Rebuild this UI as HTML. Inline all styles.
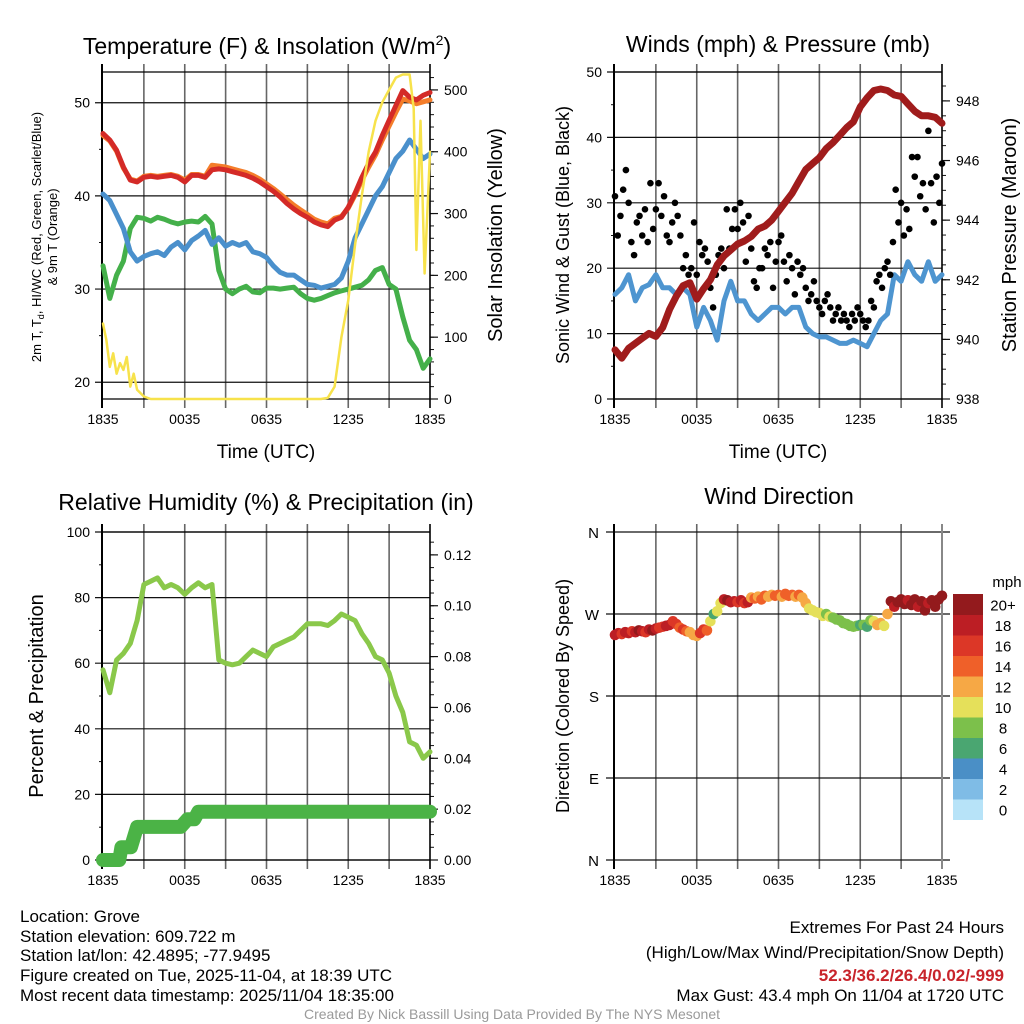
<!DOCTYPE html>
<html><head><meta charset="utf-8"><style>
html,body{margin:0;padding:0;background:#fff;}
svg{display:block;font-family:"Liberation Sans",sans-serif;}
.ft{font-family:"Liberation Sans Narrow","Liberation Sans",sans-serif;}
</style></head><body>
<svg id="fig" width="1024" height="1024" viewBox="0 0 1024 1024" xmlns="http://www.w3.org/2000/svg">
<g id="layer"></g>
<text x="267" y="54" font-size="23" text-anchor="middle">Temperature (F) &amp; Insolation (W/m<tspan dy="-9" font-size="14">2</tspan><tspan dy="9">)</tspan></text>
<text x="778" y="52" font-size="23" text-anchor="middle">Winds (mph) &amp; Pressure (mb)</text>
<text x="266" y="510" font-size="23" text-anchor="middle">Relative Humidity (%) &amp; Precipitation (in)</text>
<text x="779" y="504" font-size="23" text-anchor="middle">Wind Direction</text>
<text x="266" y="458" font-size="19" text-anchor="middle">Time (UTC)</text>
<text x="778" y="458" font-size="19" text-anchor="middle">Time (UTC)</text>
<text transform="translate(41,237) rotate(-90)" font-size="13" text-anchor="middle">2m T, T<tspan font-size="9" dy="3">d</tspan><tspan dy="-3">, HI/WC (Red, Green, Scarlet/Blue)</tspan></text>
<text transform="translate(57,237) rotate(-90)" font-size="13" text-anchor="middle">&amp; 9m T (Orange)</text>
<text transform="translate(502,235) rotate(-90)" font-size="20" text-anchor="middle">Solar Insolation (Yellow)</text>
<text transform="translate(569,235) rotate(-90)" font-size="18" text-anchor="middle">Sonic Wind &amp; Gust (Blue, Black)</text>
<text transform="translate(1016,235) rotate(-90)" font-size="20" text-anchor="middle">Station Pressure (Maroon)</text>
<text transform="translate(43,696) rotate(-90)" font-size="20" text-anchor="middle">Percent &amp; Precipitation</text>
<text transform="translate(569,696) rotate(-90)" font-size="18" text-anchor="middle">Direction (Colored By Speed)</text>
<g class="ft" font-size="17">
<text x="20" y="922">Location: Grove</text>
<text x="20" y="942">Station elevation: 609.722 m</text>
<text x="20" y="961">Station lat/lon: 42.4895; -77.9495</text>
<text x="20" y="981">Figure created on Tue, 2025-11-04, at 18:39 UTC</text>
<text x="20" y="1001">Most recent data timestamp: 2025/11/04 18:35:00</text>
<text x="1004" y="933" text-anchor="end">Extremes For Past 24 Hours</text>
<text x="1004" y="958" text-anchor="end">(High/Low/Max Wind/Precipitation/Snow Depth)</text>
<text x="1004" y="981" text-anchor="end" fill="#c8242b" font-weight="bold">52.3/36.2/26.4/0.02/-999</text>
<text x="1004" y="1001" text-anchor="end">Max Gust: 43.4 mph On 11/04 at 1720 UTC</text>
<text x="512" y="1019" text-anchor="middle" fill="#9a9a9a" font-size="14">Created By Nick Bassill Using Data Provided By The NYS Mesonet</text>
</g>
</svg>
<script>
const timeLabels=["1835","0035","0635","1235","1835"];
const temp2m=[46.7,46,44.9,43.1,41.7,41.5,42,42.1,42,42.1,42.2,42,41.5,42.2,42.2,42,42.8,42.9,42.8,42.6,42.4,42.2,41.9,41.5,41,40.5,39.9,39.2,38.6,38.1,37.7,37.2,36.9,36.7,37.4,37.7,38.8,40.3,42,43.5,44.7,46.5,48.1,49.7,51.3,50.6,50.3,50.8,51.1];
const temp9m=[46.5,45.9,44.8,43,41.8,41.6,42.1,42.2,42.1,42.2,42.3,42.1,41.7,42.3,42.3,42.1,43.3,43.2,43.1,42.9,42.7,42.5,42.2,41.8,41.3,40.8,40.2,39.6,39,38.5,38,37.5,37.2,37,37.6,37.8,38.7,40.1,41.7,43.1,44.4,46,47.5,49,50.4,50.2,49.9,50.1,50.3];
const dewPoint=[40.2,39.5,38,36.5,34,33,33.5,33.8,34,33.6,34.5,35,34.2,35.2,35.7,36.3,34.8,35.5,34.6,35,34.7,35,34,33.8,33.4,32.5,31.8,31.5,31.5,31,30.5,30.4,30.1,30.3,30.5,31.2,33,35.5,37,38.5,40,41,42.5,44,44.8,46,45,44,44.5];
const chillVals=[32.5,29,31.5,33,36.5,37.7,37.6,37.3,37.7,37.5,37.2,37,37.2,37.3,37.2,37.8,37,32,30,29.5,30,30.3,29.7,29.6,30.1,30.1,30,30.1,30.2,29.5,29,28.8,29,29.3,29.6,29.8,30,30.2,30.4,31,32,32.3,30.5,30,27,24.5,23.5,21.5,22.5];
const insolHours=[0,0.25,0.5,0.75,1,1.25,1.5,1.75,2,2.25,2.5,3,3.5,16,16.5,17,17.5,18,18.5,19,19.5,20,20.5,21,21.5,22,22.5,22.8,23,23.3,23.6,23.8,24];
const insolVals=[122,95,52,74,41,58,47,68,20,41,15,4,0,0,2,20,100,160,250,330,400,450,480,500,520,525,525,470,241,450,203,300,400];
const pressureVals=[939.65,939.37,939.7,939.87,940.04,940.2,940.1,940.4,941,941.45,941.8,941.9,941.35,941.7,942,942.5,942.8,943,943.2,943.3,943.45,943.7,943.8,944,944.3,944.6,944.9,945.3,945.7,945.9,946.1,946.4,946.6,946.85,947.1,947.3,947.8,948.1,948.35,948.4,948.35,948.2,948.15,947.9,947.65,947.5,947.5,947.45,947.25];
const windVals=[16,17,19,15,17,17.5,19,17,17,16,17,16,11,14,12,9,15,18,15,15,13,12,13,14,14,13,14,14,11,10,9.5,9.5,9,8.5,8.5,9,8.5,8,10,12,13,19,18,21,19,18,21,18,19];
const gustHours=[0,0.2,0.4,0.6,0.8,1,1.2,1.4,1.6,1.8,2,2.2,2.4,2.6,2.8,3,3.2,3.4,3.6,3.8,4,4.2,4.4,4.6,4.8,5,5.2,5.4,5.6,5.8,6,6.2,6.4,6.6,6.8,7,7.2,7.4,7.6,7.8,8,8.2,8.4,8.6,8.8,9,9.2,9.4,9.6,9.8,10,10.2,10.4,10.6,10.8,11,11.2,11.4,11.6,11.8,12,12.2,12.4,12.6,12.8,13,13.2,13.4,13.6,13.8,14,14.2,14.4,14.6,14.8,15,15.2,15.4,15.6,15.8,16,16.2,16.4,16.6,16.8,17,17.2,17.4,17.6,17.8,18,18.2,18.4,18.6,18.8,19,19.2,19.4,19.6,19.8,20,20.2,20.4,20.6,20.8,21,21.2,21.4,21.6,21.8,22,22.2,22.4,22.6,22.8,23,23.2,23.4,23.6,23.8,24];
const gustVals=[31,25,28,32,35,30,24,22,27,28,25,29,24,33,26,29,33,28,31,25,24,27,30,28,25,20,22,19,20,27,19,24,22,23,21,17,14,19,22,23,20,29,23,26,29,26,30,27,21,28,23,18,17,20,20,23,22,24,17,21,24,25,21,18,22,20,16,21,19,20,17,15,16,18,15,14,13,15,16,14,12,13,14,12,13,12,11,13,12,14,13,12,11,12,15,14,18,19,17,20,21,19,24,32,27,30,25,29,26,37,34,37,31,33,29,41,33,27,34,30,36];
const rhVals=[58,51,61,63,66,73,84,85,86,83,84,83,81,83,84.5,83,84,61,60,59.5,60,62,64,63,62,65,66,67,68,70,72,72,72,71.5,73,75,74,73,69,66,62,61,57,50,45,36,35,31,33];
const precipHours=[0,1.2,1.35,2.05,2.5,5.7,6.2,6.7,7.0,24];
const precipVals=[0,0,0.005,0.005,0.013,0.013,0.016,0.016,0.019,0.019];
const dirVals=[247,249,248,250,249,251,250,252,251,250,253,252,254,255,256,257,258,262,259,255,253,251,250,247,246,249,253,252,262,270,273,282,286,285,283,284,283,285,282,283,288,287,289,286,290,289,291,290,291,289,292,290,291,289,291,288,282,276,274,272,271,268,270,267,266,264,263,260,259,257,256,257,258,258,256,263,262,258,260,257,270,284,278,283,286,281,285,280,286,278,284,274,282,285,278,286,290];
const dirSpeeds=[19,19,17,19,18,17,19,20,19,17,18,20,18,17,16,19,18,16,17,15,16,14,13,12,12,17,16,14,10,7,10,11,19,20,18,18,17,18,16,19,13,14,12,15,14,13,12,14,14,12,14,15,14,13,15,13,12,11,10,10,10,11,9,10,8,9,8,8,8,8,9,8,7,8,6,9,10,12,13,11,12,20,18,21,21,20,19,21,22,18,21,20,19,21,20,22,21];
const speedLabels=["0","2","4","6","8","10","12","14","16","18","20+"];
const speedColors=["#b7e3f8","#7fbce6","#4a8fc6","#4aa671","#7cc04b","#e5e05a","#f6a845","#ef6029","#dc3727","#bc1e24","#931a1d"];

const NS="http://www.w3.org/2000/svg";
const layer=document.getElementById('layer');
function mk(tag,attrs,parent){const e=document.createElementNS(NS,tag);for(const k in attrs)e.setAttribute(k,attrs[k]);(parent||layer).appendChild(e);return e;}
function txt(x,y,s,size,anchor,parent){const t=mk('text',{x:x,y:y,'font-size':size,'text-anchor':anchor},parent);t.textContent=s;return t;}
function panel(L,R,T,B){return {L,R,T,B,x:h=>L+h/24*(R-L)};}
function lin(d0,d1,T,B){return v=>B-(v-d0)/(d1-d0)*(B-T);}

function frame(p,name,yl,lt,lmin,yr,rt,rmin,rfmt,lfmt){
  const g=mk('g',{});
  
  
  for(let i=1;i<8;i++){const x=p.L+i*(p.R-p.L)/8;const l=mk('line',{x1:x,x2:x,y1:p.T-8,y2:p.B+9,stroke:'#666','stroke-width':1.6},g);}
  lt.forEach(v=>{const y=yl(v);const l=mk('line',{x1:p.L-8,x2:p.R,y1:y,y2:y,stroke:'#111','stroke-width':1.2},g);
    const t=txt(p.L-13,y+5,lfmt(v),14,'end',g);});
  lmin.forEach(v=>{const y=yl(v);mk('line',{x1:p.L-4,x2:p.L,y1:y,y2:y,stroke:'#111','stroke-width':1},g);});
  rt.forEach(v=>{const y=yr(v);mk('line',{x1:p.R,x2:p.R+8,y1:y,y2:y,stroke:'#111','stroke-width':1.2},g);
    const t=txt(p.R+14,y+5,rfmt(v),14,'start',g);});
  rmin.forEach(v=>{const y=yr(v);mk('line',{x1:p.R,x2:p.R+4,y1:y,y2:y,stroke:'#111','stroke-width':1},g);});
  mk('line',{x1:p.L-1,x2:p.L-1,y1:p.T-8,y2:p.B+9,stroke:'#000','stroke-width':2},g);
  mk('line',{x1:p.R,x2:p.R,y1:p.T-8,y2:p.B+9,stroke:'#000','stroke-width':1.6},g);
  mk('line',{x1:p.L,x2:p.R,y1:p.T,y2:p.T,stroke:'#000','stroke-width':1.3},g);
  mk('line',{x1:p.L,x2:p.R,y1:p.B,y2:p.B,stroke:'#000','stroke-width':1.3},g);
  timeLabels.forEach((s,i)=>{const t=txt(p.x(i*6),p.B+25,s,14,'middle',g);});
  return g;
}
function line(p,hours,vals,ys,color,w,name){
  const d=vals.map((v,i)=>(i?'L':'M')+p.x(hours(i)).toFixed(1)+','+ys(v).toFixed(1)).join('');
  const e=mk('path',{d:d,fill:'none',stroke:color,'stroke-width':w,'stroke-linejoin':'round','stroke-linecap':'round'});
  
  
  return e;
}
const half=i=>i*0.5;
function range(a,b,s){const r=[];for(let v=a;v<=b+1e-9;v+=s)r.push(+v.toFixed(4));return r;}

// Panel 1
const p1=panel(103,430,72,399);
const t1=lin(18.2,53.3,p1.T,p1.B), s1=lin(0,529,p1.T,p1.B);
frame(p1,'temperature',t1,[20,30,40,50],[25,35,45],s1,[0,100,200,300,400,500],range(20,520,20),v=>String(v),v=>String(v));
line(p1,half,temp9m,t1,'#f47d2a',5,'temp-9m-line');
line(p1,half,temp2m,t1,'#d42a27',5,'temp-2m-line');
line(p1,half,chillVals,t1,'#44b04a',5,'heat-index-windchill-line');
line(p1,half,dewPoint,t1,'#4a90cc',5,'dewpoint-line');
line(p1,i=>insolHours[i],insolVals,s1,'#f7e24b',2.5,'insolation-line');

// Panel 2
const p2=panel(615,942,72,399);
const w2=lin(0,50,p2.T,p2.B), pr2=lin(938,948.97,p2.T,p2.B);
frame(p2,'winds',w2,[0,10,20,30,40,50],[5,15,25,35,45],pr2,[938,940,942,944,946,948],range(938.5,948.5,0.5),v=>String(v),v=>String(v));
line(p2,half,windVals,w2,'#4e95d0',5,'sonic-wind-line');
gustVals.forEach((v,i)=>{if(gustHours[i]===undefined)return;const c=mk('circle',{cx:p2.x(gustHours[i]),cy:w2(v),r:3.3,fill:'#000'});

});
line(p2,half,pressureVals,pr2,'#a01c1c',7,'pressure-line');

// Panel 3
const p3=panel(103,430,532,860);
const r3=lin(0,100,p3.T,p3.B), pc3=lin(0,0.129,p3.T,p3.B);
frame(p3,'humidity',r3,[0,20,40,60,80,100],[10,30,50,70,90],pc3,[0,0.02,0.04,0.06,0.08,0.1,0.12],range(0.005,0.125,0.005),v=>v.toFixed(2),v=>String(v));
line(p3,half,rhVals,r3,'#8ac84a',5,'relative-humidity-line');
line(p3,i=>precipHours[i],precipVals,pc3,'#4bb346',14,'precipitation-line');

// Panel 4
const p4=panel(615,942,532,860);
const d4=lin(0,360,p4.T,p4.B);
const dirLabels=["N","E","S","W","N"];
(function(){const g=mk('g',{});


for(let i=1;i<8;i++){const x=p4.L+i*(p4.R-p4.L)/8;mk('line',{x1:x,x2:x,y1:p4.T-8,y2:p4.B+9,stroke:'#666','stroke-width':1.6},g);}
[0,90,180,270,360].forEach((v,i)=>{const y=d4(v);mk('line',{x1:p4.L-9,x2:p4.R+8,y1:y,y2:y,stroke:'#111','stroke-width':1.2},g);
 const t=txt(p4.L-16,y+6,dirLabels[i],15,'end',g);});
mk('line',{x1:p4.L-1,x2:p4.L-1,y1:p4.T-8,y2:p4.B+9,stroke:'#000','stroke-width':2},g);
mk('line',{x1:p4.R,x2:p4.R,y1:p4.T-8,y2:p4.B+9,stroke:'#888','stroke-width':2},g);
timeLabels.forEach((s,i)=>{const t=txt(p4.x(i*6),p4.B+25,s,14,'middle',g);});
})();
dirVals.forEach((v,i)=>{const idx=Math.min(10,Math.floor(dirSpeeds[i]/2));
const c=mk('circle',{cx:p4.x(i*0.25),cy:d4(v),r:5.3,fill:speedColors[idx]});

});
// colorbar
(function(){const g=mk('g',{});


const top=594,h=20.5;
speedColors.forEach((c,i)=>{const y=top+(10-i)*h;const r=mk('rect',{x:953,y:y,width:30,height:h+0.5,fill:c},g);


const t=txt(1003,y+h/2+6,speedLabels[i],15,'middle',g);

});
const u=txt(1007,587,'mph',15,'middle',g);


})();
</script>
</body></html>
